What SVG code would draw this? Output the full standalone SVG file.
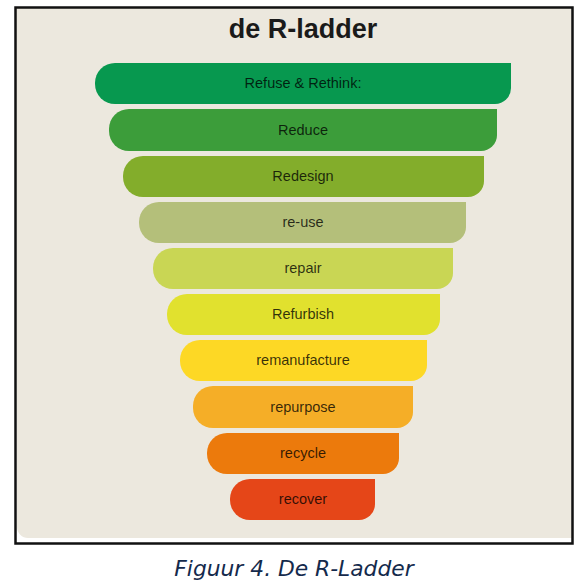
<svg xmlns="http://www.w3.org/2000/svg" width="586" height="588" viewBox="0 0 586 588">
<style>
.lbl{font-family:"Liberation Sans",Arial,sans-serif;font-size:14.5px;fill:#000;fill-opacity:0.78;text-anchor:middle}
.title{font-family:"Liberation Sans",Arial,sans-serif;font-size:27px;font-weight:bold;fill:#1a1a1a;text-anchor:middle}
.cap{font-family:"DejaVu Sans",Verdana,sans-serif;font-style:italic;font-size:21.8px;fill:#142a4c;text-anchor:middle}
</style>
<rect x="0" y="0" width="586" height="588" fill="#ffffff"/>
<path d="M16,8 H572 V538 H28 A11 11 0 0 1 17,527 Z" fill="#ece8de"/>
<rect x="15.5" y="7.5" width="557" height="536" fill="none" stroke="#111" stroke-width="2.5"/>
<text class="title" x="303" y="38">de R-ladder</text>
<g id="refuse"><path d="M115,63 H511 V88 A16 16 0 0 1 495,104 H115 A20 20 0 0 1 95,84 V83 A20 20 0 0 1 115,63 Z" fill="#07984f"/><text class="lbl" x="303" y="88">Refuse &amp; Rethink:</text></g>
<g id="reduce"><path d="M129,109 H497 V135 A16 16 0 0 1 481,151 H129 A20 20 0 0 1 109,131 V129 A20 20 0 0 1 129,109 Z" fill="#3c9d3a"/><text class="lbl" x="303" y="135">Reduce</text></g>
<g id="redesign"><path d="M143,156 H484 V181 A16 16 0 0 1 468,197 H143 A20 20 0 0 1 123,177 V176 A20 20 0 0 1 143,156 Z" fill="#83ad2b"/><text class="lbl" x="303" y="181">Redesign</text></g>
<g id="reuse"><path d="M159,202 H466 V227 A16 16 0 0 1 450,243 H159 A20 20 0 0 1 139,223 V222 A20 20 0 0 1 159,202 Z" fill="#b4bf7a"/><text class="lbl" x="303" y="227">re-use</text></g>
<g id="repair"><path d="M173,248 H453 V273 A16 16 0 0 1 437,289 H173 A20 20 0 0 1 153,269 V268 A20 20 0 0 1 173,248 Z" fill="#c9d654"/><text class="lbl" x="303" y="273">repair</text></g>
<g id="refurbish"><path d="M187,294 H440 V319 A16 16 0 0 1 424,335 H187 A20 20 0 0 1 167,315 V314 A20 20 0 0 1 187,294 Z" fill="#e1e12e"/><text class="lbl" x="303" y="319">Refurbish</text></g>
<g id="remanufacture"><path d="M200,340 H427 V365 A16 16 0 0 1 411,381 H200 A20 20 0 0 1 180,361 V360 A20 20 0 0 1 200,340 Z" fill="#fdd825"/><text class="lbl" x="303" y="365">remanufacture</text></g>
<g id="repurpose"><path d="M213,386 H413 V412 A16 16 0 0 1 397,428 H213 A20 20 0 0 1 193,408 V406 A20 20 0 0 1 213,386 Z" fill="#f5ae27"/><text class="lbl" x="303" y="412">repurpose</text></g>
<g id="recycle"><path d="M227,433 H399 V458 A16 16 0 0 1 383,474 H227 A20 20 0 0 1 207,454 V453 A20 20 0 0 1 227,433 Z" fill="#ec7a0c"/><text class="lbl" x="303" y="458">recycle</text></g>
<g id="recover"><path d="M250,479 H375 V504 A16 16 0 0 1 359,520 H250 A20 20 0 0 1 230,500 V499 A20 20 0 0 1 250,479 Z" fill="#e54618"/><text class="lbl" x="303" y="504">recover</text></g>
<g id="connectors"></g>
<text class="cap" x="294" y="576">Figuur 4. De R-Ladder</text>
</svg>
